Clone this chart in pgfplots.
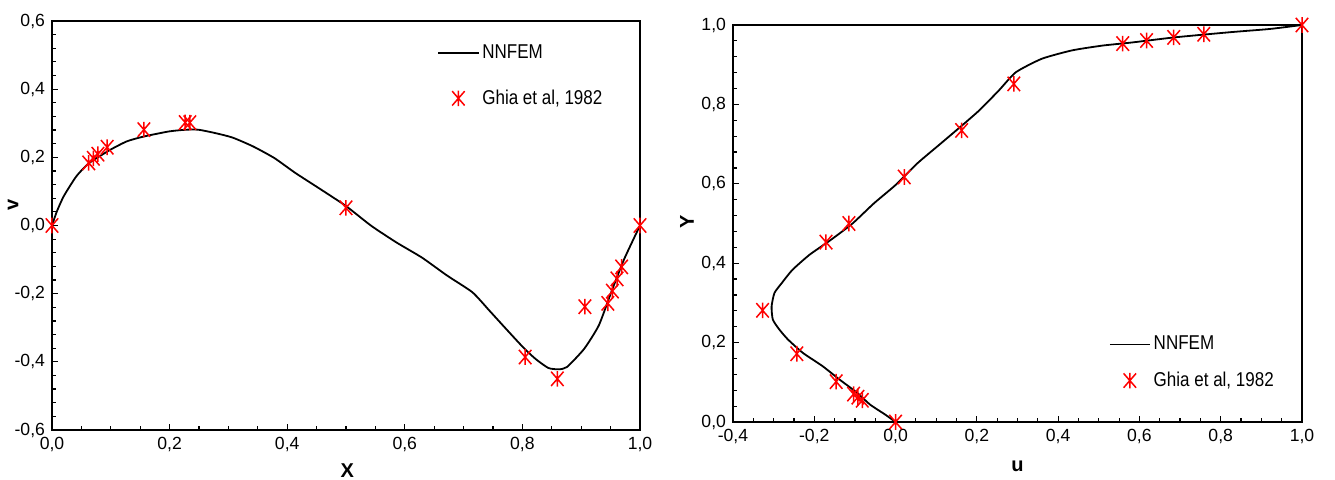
\documentclass[border=0pt]{standalone}
\usepackage{fontspec}
\setmainfont{Liberation Sans}
\newfontfamily\legfont[FakeStretch=0.85]{Liberation Sans}
\usepackage{pgfplots}
\pgfplotsset{compat=1.18}

\pgfdeclareplotmark{ghia}{%
 \pgfpathmoveto{\pgfqpoint{0pt}{\pgfplotmarksize}}%
 \pgfpathlineto{\pgfqpoint{0pt}{-\pgfplotmarksize}}%
 \pgfpathmoveto{\pgfqpoint{-0.8\pgfplotmarksize}{0.92\pgfplotmarksize}}%
 \pgfpathlineto{\pgfqpoint{0.8\pgfplotmarksize}{-0.92\pgfplotmarksize}}%
 \pgfpathmoveto{\pgfqpoint{0.8\pgfplotmarksize}{0.92\pgfplotmarksize}}%
 \pgfpathlineto{\pgfqpoint{-0.8\pgfplotmarksize}{-0.92\pgfplotmarksize}}%
 \pgfusepathqstroke}

\pgfplotsset{
  common/.style={
    scale only axis, clip=false,
    tick align=inside, tick pos=left,
    axis line style={line width=0.75pt},
    every tick/.style={black, line width=0.6pt},
    major tick length=3pt, minor tick length=2pt,
    /pgf/number format/assume math mode=true,
    /pgf/number format/use comma,
    /pgf/number format/fixed,
    /pgf/number format/fixed zerofill,
    /pgf/number format/precision=1,
    tick label style={font=\fontsize{8.8}{10}\selectfont},
    label style={font=\bfseries\fontsize{10}{12}\selectfont, inner sep=0pt},
    legend style={draw=none, fill=none, legend cell align=left,
      font=\legfont\fontsize{10}{12}\selectfont, row sep=11pt,
      inner sep=0pt, nodes={inner sep=1.5pt}},
    legend image code/.code={\draw[mark repeat=2,mark phase=2,##1] plot coordinates {(0pt,0pt) (10pt,0pt) (20pt,0pt)};},
  },
  nn/.style={black, line width=0.9pt, no markers, smooth, tension=0.35},
  gh/.style={red, only marks, mark=ghia, mark size=3.9pt, line width=0.75pt},
}

\begin{document}
\begin{tikzpicture}
\path[use as bounding box] (0,0) rectangle (667.5pt,-240pt);

\begin{axis}[common,
  at={(26pt,-10.5pt)}, anchor=north west,
  width=294pt, height=204.5pt,
  xmin=0, xmax=1, ymin=-0.6, ymax=0.6,
  xtick={0,0.2,0.4,0.6,0.8,1},
  ytick={-0.6,-0.4,-0.2,0,0.2,0.4,0.6},
  minor x tick num=3, minor y tick num=4,
  xlabel={X}, ylabel={v},
  xlabel style={at={(axis description cs:0.502,-0.099)}, anchor=center},
  ylabel style={at={(axis description cs:-0.066,0.551)}, anchor=center},
  legend style={at={(axis description cs:0.655,0.95)}, anchor=north west},
]
\addplot[nn] coordinates {
(0,0)(0.008,0.04)(0.02,0.086)(0.0415,0.1445)(0.063,0.183)(0.099,0.222)(0.1275,0.247)
(0.156,0.261)(0.199,0.276)(0.228,0.281)(0.249,0.281)(0.278,0.271)(0.307,0.258)
(0.342,0.232)(0.378,0.198)(0.414,0.154)(0.457,0.106)(0.5,0.057)(0.543,-0.001)
(0.586,-0.050)(0.629,-0.094)(0.672,-0.147)(0.715,-0.196)(0.744,-0.250)(0.772,-0.303)
(0.801,-0.357)(0.822,-0.391)(0.844,-0.418)(0.862,-0.422)(0.876,-0.415)(0.905,-0.362)
(0.930,-0.293)(0.951,-0.196)(0.973,-0.099)(1,0)
};
\addlegendentry{NNFEM}
\addplot[gh] coordinates {
(1.0000,0)(0.9688,-0.12146)(0.9609,-0.15663)(0.9531,-0.19254)(0.9453,-0.22847)
(0.9063,-0.23827)(0.8594,-0.44993)(0.8047,-0.38598)(0.5000,0.05186)(0.2344,0.30174)
(0.2266,0.30203)(0.1563,0.28124)(0.0938,0.22965)(0.0781,0.20920)(0.0703,0.19713)
(0.0625,0.18360)(0.0000,0)
};
\addlegendentry{Ghia et al, 1982}
\end{axis}

\begin{axis}[common,
  at={(366.5pt,-12.5pt)}, anchor=north west,
  width=284.5pt, height=198.5pt,
  xmin=-0.4, xmax=1, ymin=0, ymax=1,
  xtick={-0.4,-0.2,0,0.2,0.4,0.6,0.8,1},
  ytick={0,0.2,0.4,0.6,0.8,1},
  minor x tick num=3, minor y tick num=4,
  xlabel={u}, ylabel={Y},
  xlabel style={at={(axis description cs:0.5,-0.111)}, anchor=center},
  ylabel style={at={(axis description cs:-0.0808,0.505)}, anchor=center},
  legend style={at={(axis description cs:0.66,0.225)}, anchor=north west, row sep=6.5pt},
]
\addplot[nn] coordinates {
(0,0)(-0.026,0.019)(-0.063,0.044)(-0.095,0.074)(-0.138,0.107)(-0.180,0.141)
(-0.228,0.174)(-0.265,0.208)(-0.286,0.233)(-0.302,0.258)(-0.305,0.291)(-0.298,0.325)
(-0.280,0.350)(-0.254,0.383)(-0.212,0.421)(-0.159,0.459)(-0.106,0.500)(-0.053,0.551)
(0,0.597)(0.053,0.651)(0.106,0.697)(0.159,0.743)(0.206,0.785)(0.254,0.835)
(0.296,0.881)(0.360,0.915)(0.434,0.936)(0.508,0.948)(0.582,0.956)(0.688,0.969)
(0.825,0.982)(0.921,0.990)(1,1)
};
\addlegendentry{NNFEM}
\addplot[gh] coordinates {
(1,1.0000)(0.75837,0.9766)(0.68439,0.9688)(0.61756,0.9609)(0.55892,0.9531)
(0.29093,0.8516)(0.16256,0.7344)(0.02135,0.6172)(-0.11477,0.5000)(-0.17119,0.4531)
(-0.32726,0.2813)(-0.24299,0.1719)(-0.14612,0.1016)(-0.10338,0.0703)(-0.09266,0.0625)
(-0.08186,0.0547)(0,0.0000)
};
\addlegendentry{Ghia et al, 1982}
\end{axis}
\end{tikzpicture}
\end{document}
